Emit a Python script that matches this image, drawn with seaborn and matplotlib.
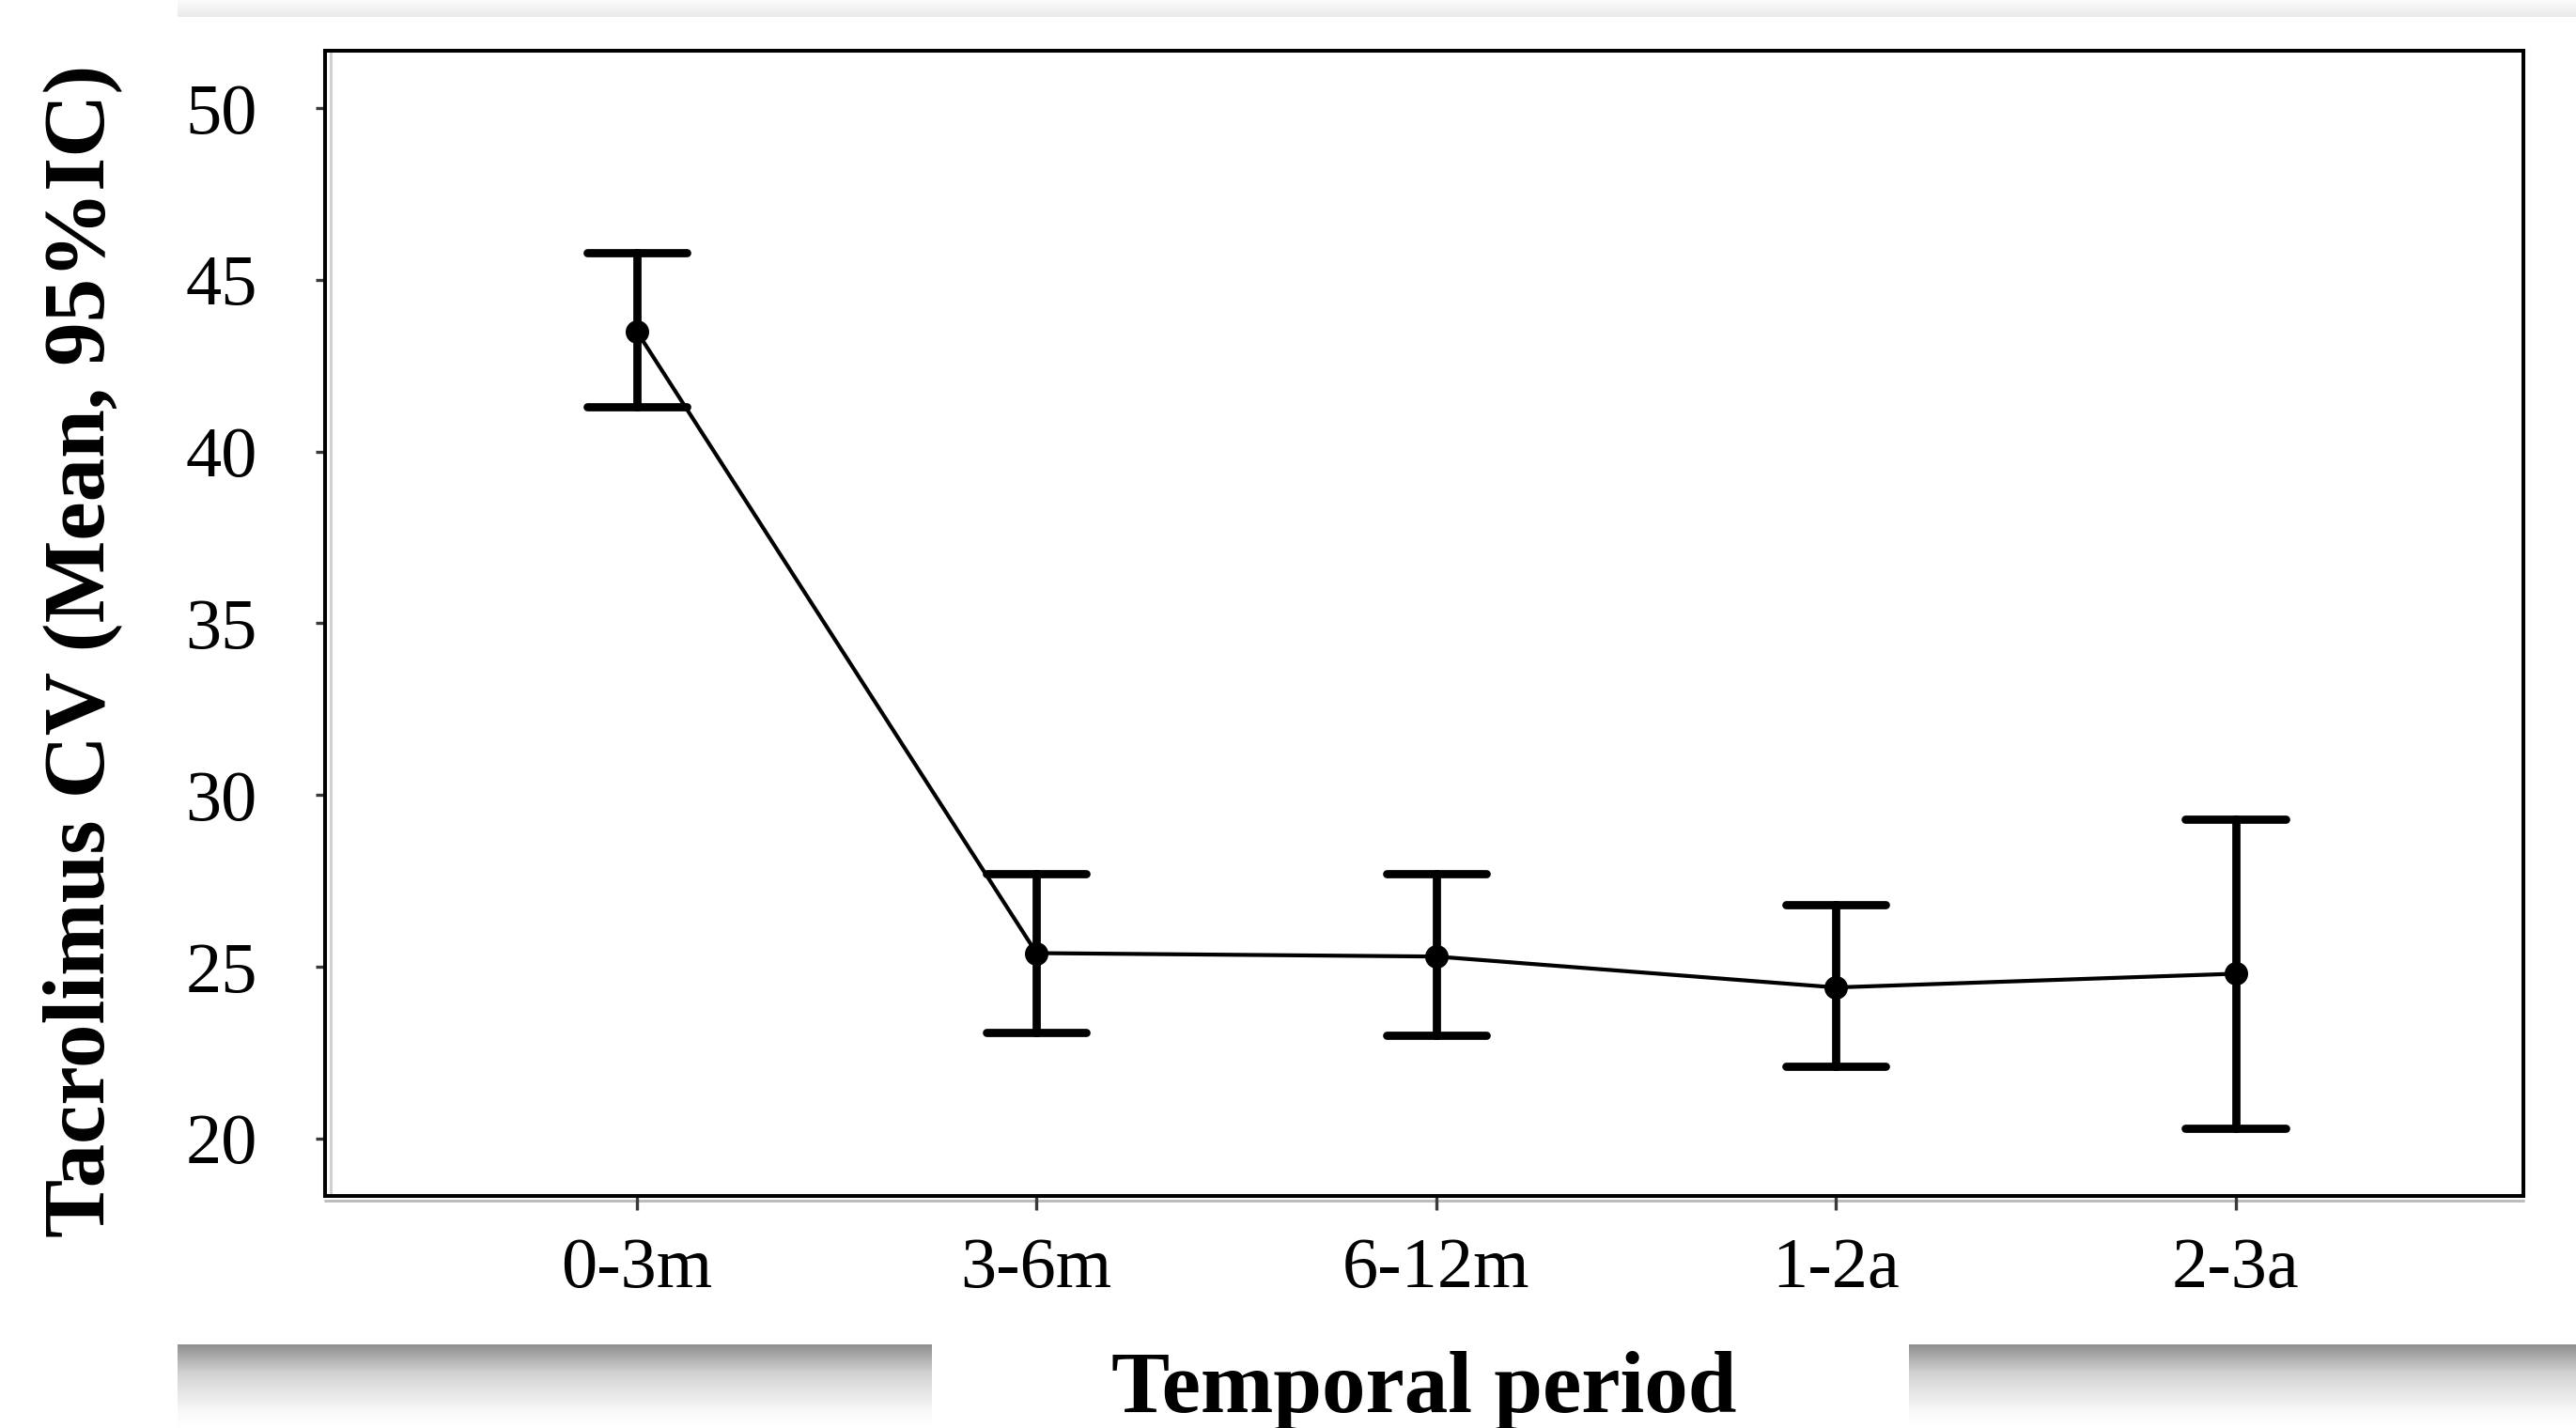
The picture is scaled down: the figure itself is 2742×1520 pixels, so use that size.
import numpy as np
import pandas as pd
import seaborn as sns
import matplotlib.pyplot as plt

periods = ["0-3m", "3-6m", "6-12m", "1-2a", "2-3a"]
cv_mean = [43.5, 25.4, 25.3, 24.4, 24.8]
ci_low = [41.3, 23.1, 23.0, 22.1, 20.3]
ci_high = [45.8, 27.7, 27.7, 26.8, 29.3]
y_ticks = [20, 25, 30, 35, 40, 45, 50]

# low / mean / high per period: median gives the mean, 100% interval gives the CI
df = pd.DataFrame({
    "period": periods * 3,
    "cv": ci_low + cv_mean + ci_high,
})

sns.set_style("ticks")
plt.rcParams["font.family"] = ["Liberation Serif", "DejaVu Serif"]
plt.rcParams["text.color"] = "black"
plt.rcParams["axes.labelcolor"] = "black"
plt.rcParams["xtick.labelcolor"] = "black"
plt.rcParams["ytick.labelcolor"] = "black"

W, H = 2742, 1520
fig = plt.figure(figsize=(W / 100, H / 100), dpi=100)
ax = fig.add_axes([346 / W, 1 - 1273 / H, (2686 - 346) / W, (1273 - 54) / H])

sns.pointplot(data=df, x="period", y="cv", order=periods,
              estimator="median", errorbar=("pi", 100),
              capsize=0.25, color="black",
              err_kws={"linewidth": 6.3},
              linewidth=3.0, markersize=17, markeredgewidth=1,
              ax=ax)

ax.set_xlim(-0.78, 4.72)
ax.set_ylim(18.33, 51.67)
ax.set_yticks(y_ticks)

for side in ["left", "right", "top", "bottom"]:
    ax.spines[side].set_visible(True)
    ax.spines[side].set_color("black")
    ax.spines[side].set_linewidth(2.9)

# faint grey shadow along the frame
ax.plot([0, 1], [-0.0045, -0.0045], transform=ax.transAxes, color="#bdbdbd",
        lw=2.2, clip_on=False, zorder=0)
ax.plot([0.0025, 0.0025], [0, 1], transform=ax.transAxes, color="#d0d0d0",
        lw=2.2, clip_on=False, zorder=0)

ax.tick_params(axis="y", length=7, width=2.4, color="#3a3a3a", pad=45, labelsize=55)
ax.tick_params(axis="x", length=11, width=2.4, color="#3a3a3a", pad=21, labelsize=55)

ax.set_ylabel("Tacrolimus CV (Mean, 95%IC)", fontsize=67, fontweight="bold")
ax.yaxis.label.set_va("center")
ax.yaxis.set_label_coords((88 - 346) / 2340, 0.476)
ax.set_xlabel("Temporal period", fontsize=67, fontweight="bold")
ax.xaxis.label.set_va("center")
ax.xaxis.set_label_coords(0.5, -0.17)

# grey gradient strips of the slide background
top = np.interp(np.arange(18), [0, 17], [0.985, 0.915])
tax = fig.add_axes([189 / W, 1 - 18 / H, 1 - 189 / W, 18 / H])
tax.imshow(top[:, None], cmap="gray", vmin=0, vmax=1, aspect="auto")
tax.axis("off")

bottom = np.interp(np.arange(89), [0, 30, 70, 89], [0.56, 0.82, 0.97, 1.0])
for x0, x1 in [(189, 992), (2032, 2742)]:
    bax = fig.add_axes([x0 / W, 0, (x1 - x0) / W, 89 / H])
    bax.imshow(bottom[:, None], cmap="gray", vmin=0, vmax=1, aspect="auto")
    bax.axis("off")

fig.savefig("out.png", dpi=100)
